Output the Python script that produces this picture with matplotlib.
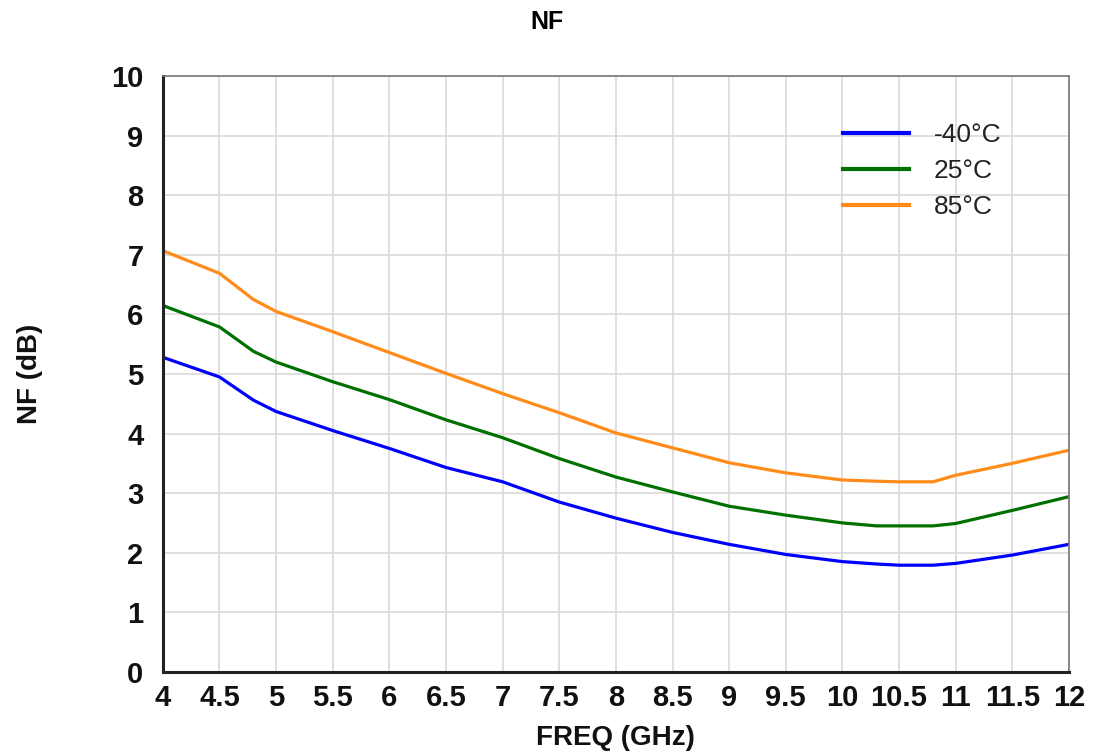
import matplotlib.pyplot as plt

plt.rcParams['font.family'] = ['Liberation Sans', 'DejaVu Sans']

# Noise figure vs frequency at three temperatures
freq = [4, 4.5, 4.8, 5, 5.5, 6, 6.5, 7, 7.5, 8, 8.5, 9, 9.5, 10, 10.3, 10.5, 10.8, 11, 11.5, 12]
nf_m40 = [5.28, 4.95, 4.56, 4.37, 4.05, 3.75, 3.43, 3.19, 2.85, 2.58, 2.34, 2.14, 1.97, 1.85, 1.81, 1.79, 1.79, 1.82, 1.96, 2.14]
nf_25 = [6.15, 5.79, 5.38, 5.20, 4.87, 4.57, 4.23, 3.93, 3.58, 3.27, 3.02, 2.78, 2.63, 2.50, 2.45, 2.45, 2.45, 2.49, 2.71, 2.94]
nf_85 = [7.07, 6.69, 6.25, 6.05, 5.71, 5.36, 5.01, 4.67, 4.35, 4.01, 3.76, 3.51, 3.34, 3.22, 3.20, 3.19, 3.19, 3.30, 3.50, 3.72]

series = [
    (nf_m40, '-40°C', '#0000ff'),
    (nf_25, '25°C', '#007000'),
    (nf_85, '85°C', '#ff8c1a'),
]

fig = plt.figure(figsize=(10.93, 7.54), dpi=100)
ax = fig.add_axes([0.149, 0.109, 0.829, 0.790])

for vals, label, color in series:
    ax.plot(freq, vals, color=color, lw=2.3, label=label)

ax.set_xlim(4, 12)
ax.set_ylim(0, 10)
ax.set_xticks([4 + 0.5 * i for i in range(17)])
ax.set_xticklabels(['4', '4.5', '5', '5.5', '6', '6.5', '7', '7.5', '8', '8.5',
                    '9', '9.5', '10', '10.5', '11', '11.5', '12'])
ax.set_yticks(range(11))
ax.grid(True, color='#d9d9d9', lw=1.2)
ax.set_axisbelow(True)
ax.tick_params(axis='x', length=0, labelsize=21, pad=9)
ax.tick_params(axis='y', length=0, labelsize=21, pad=14)
for lbl in ax.get_xticklabels() + ax.get_yticklabels():
    lbl.set_fontweight('bold')
    lbl.set_color('#111111')

ax.spines['left'].set_color('#222222')
ax.spines['left'].set_linewidth(2.2)
ax.spines['bottom'].set_color('#222222')
ax.spines['bottom'].set_linewidth(2.2)
ax.spines['top'].set_color('#777777')
ax.spines['top'].set_linewidth(1.2)
ax.spines['right'].set_color('#777777')
ax.spines['right'].set_linewidth(1.2)

ax.set_xlabel('FREQ (GHz)', fontsize=20, fontweight='bold', color='#111111')
ax.set_ylabel('NF (dB)', fontsize=20, fontweight='bold', color='#111111', va='center')
ax.xaxis.set_label_coords(0.5, -0.089)
ax.yaxis.set_label_coords(-0.147, 0.5)
fig.text(0.5, 0.971, 'NF', ha='center', va='center', fontsize=18, fontweight='bold')

leg = ax.legend(loc='upper left', bbox_to_anchor=(0.7506, 0.921), frameon=False,
                borderpad=0, borderaxespad=0, fontsize=19, handlelength=2.5,
                handletextpad=0.95, labelspacing=0.45)
for t in leg.get_texts():
    t.set_color('#222222')
for h in leg.get_lines():
    h.set_linewidth(3)

fig.savefig('out.png', dpi=100)
